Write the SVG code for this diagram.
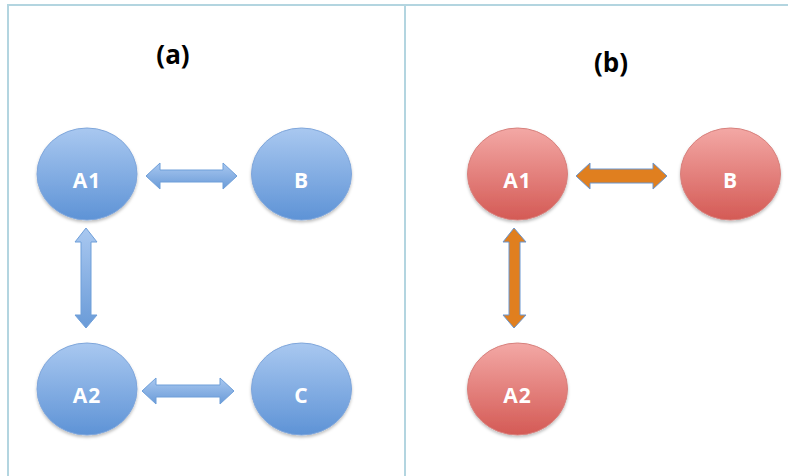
<svg xmlns="http://www.w3.org/2000/svg" width="788" height="476" viewBox="0 0 788 476">
<defs>
<linearGradient id="gBlue" x1="0" y1="0" x2="0" y2="1">
<stop offset="0" stop-color="#a9c8f0"/>
<stop offset="1" stop-color="#5e93d6"/>
</linearGradient>
<linearGradient id="gRed" x1="0" y1="0" x2="0" y2="1">
<stop offset="0" stop-color="#f3a8a5"/>
<stop offset="1" stop-color="#d45a55"/>
</linearGradient>
<linearGradient id="gArrow" x1="0" y1="0" x2="0" y2="1">
<stop offset="0" stop-color="#a9c8f0"/>
<stop offset="1" stop-color="#6a9bd8"/>
</linearGradient>
<filter id="sh" x="-20%" y="-20%" width="140%" height="150%">
<feDropShadow dx="0" dy="2" stdDeviation="1.5" flood-color="#000" flood-opacity="0.25"/>
</filter>
</defs>
<style>
.frame{stroke:#b3d5e0;stroke-width:2;fill:none}
.title{font-family:"Open Sans","Liberation Sans",sans-serif;font-weight:bold;font-size:26px;fill:#000;text-anchor:middle}
.lbl{font-family:"Open Sans","Liberation Sans",sans-serif;font-weight:bold;font-size:21px;letter-spacing:1px;fill:#fff;text-anchor:middle}
.blue{fill:url(#gBlue);stroke:#7fa6db;stroke-width:1;filter:url(#sh)}
.red{fill:url(#gRed);stroke:#d7807c;stroke-width:1;filter:url(#sh)}
.barrow{fill:url(#gArrow);stroke:#6f9fd9;stroke-width:1}
.oarrow{fill:#e07f1f;stroke:#6a96cf;stroke-width:1}
</style>
<rect width="788" height="476" fill="#fff"/>
<g id="frame">
<line class="frame" x1="8" y1="5" x2="788" y2="5"/>
<line class="frame" x1="8" y1="4" x2="8" y2="476"/>
<line class="frame" x1="405" y1="4" x2="405" y2="476"/>
</g>
<text class="title" x="173" y="64">(a)</text>
<text class="title" x="611" y="72">(b)</text>
<g id="connectors">
<path class="barrow" d="M146,176 L160,163 L160,170 L223,170 L223,163 L237,176 L223,189 L223,182 L160,182 L160,189 Z"/>
<path class="barrow" d="M142,391 L156,378 L156,385 L220,385 L220,378 L234,391 L220,404 L220,397 L156,397 L156,404 Z"/>
<path class="barrow" d="M86,228 L97,242 L91,242 L91,315 L97,315 L86,328 L75,315 L81,315 L81,242 L75,242 Z"/>
<path class="oarrow" d="M576,176 L590,163 L590,169 L653,169 L653,163 L667,176 L653,189 L653,183 L590,183 L590,189 Z"/>
<path class="oarrow" d="M514,228 L526,242 L520,242 L520,315 L526,315 L514,328 L503,315 L509,315 L509,242 L503,242 Z"/>
</g>
<g id="nodeA1a"><ellipse class="blue" cx="87" cy="174" rx="50" ry="46"/><text class="lbl" x="87" y="188">A1</text></g>
<g id="nodeBa"><ellipse class="blue" cx="301.5" cy="174" rx="50" ry="46"/><text class="lbl" x="301.5" y="188">B</text></g>
<g id="nodeA2a"><ellipse class="blue" cx="87" cy="389" rx="50" ry="46"/><text class="lbl" x="87" y="403">A2</text></g>
<g id="nodeCa"><ellipse class="blue" cx="301.5" cy="389" rx="50" ry="46"/><text class="lbl" x="301.5" y="403">C</text></g>
<g id="nodeA1b"><ellipse class="red" cx="517.5" cy="174" rx="50" ry="46"/><text class="lbl" x="517.5" y="188">A1</text></g>
<g id="nodeBb"><ellipse class="red" cx="730.5" cy="174" rx="50" ry="46"/><text class="lbl" x="730.5" y="188">B</text></g>
<g id="nodeA2b"><ellipse class="red" cx="517.5" cy="389" rx="50" ry="46"/><text class="lbl" x="517.5" y="403">A2</text></g>
</svg>
